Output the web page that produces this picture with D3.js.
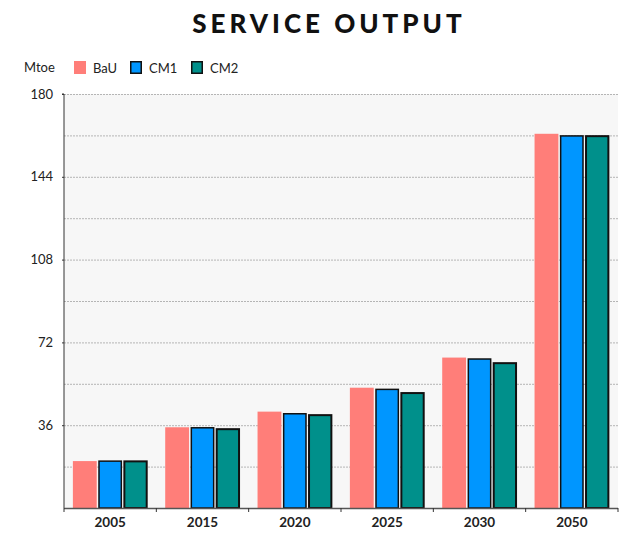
<!DOCTYPE html>
<html><head><meta charset="utf-8">
<script src="https://cdn.jsdelivr.net/npm/d3@7"></script>
<style>body{margin:0;background:#fff;}svg{display:block;}</style>
</head><body><div id="chart"></div>
<script>
const categories = ["2005","2015","2020","2025","2030","2050"];
const seriesNames = ["BaU","CM1","CM2"];
const bau = [20.4, 35.1, 41.9, 52.3, 65.4, 162.7];
const cm1 = [20.7, 35.2, 41.3, 51.9, 65.1, 162.1];
const cm2 = [20.6, 34.6, 40.7, 50.3, 63.3, 162.0];
const yTicks = [36, 72, 108, 144, 180];
const yGrid = [18, 36, 54, 72, 90, 108, 126, 144, 162, 180];
const colors = {BaU:"#FF7E79", CM1:"#0096FF", CM2:"#00908B"};
const legendLabels = ["BaU","CM1","CM2"];

const W = 629, H = 538;
const m = {l:64, r:11, t:94, b:30};
const svg = d3.select("#chart").append("svg").attr("width",W).attr("height",H);
const x = d3.scaleBand().domain(categories).range([m.l, W-m.r]).paddingInner(0).paddingOuter(0);
const xs = d3.scaleBand().domain(seriesNames).range([0, x.bandwidth()]).paddingInner(0.06).paddingOuter(0.35);
const y = d3.scaleLinear().domain([0,180]).range([H-m.b, m.t]);

svg.append("rect").attr("x",m.l).attr("y",m.t).attr("width",W-m.r-m.l).attr("height",H-m.b-m.t).attr("fill","#F7F7F7");

svg.append("g").selectAll("line").data(yGrid).join("line")
  .attr("x1",m.l).attr("x2",W-m.r).attr("y1",d=>y(d)+0.5).attr("y2",d=>y(d)+0.5)
  .attr("stroke","#b5b5b5").attr("stroke-width",1).attr("stroke-dasharray","2,1");

svg.append("text").attr("x",329).attr("y",33).attr("text-anchor","middle")
  .attr("font-family","Lato, sans-serif").attr("font-weight",900).attr("font-size",26)
  .attr("letter-spacing",4).attr("fill","#111").text("SERVICE OUTPUT");

const data = categories.map((c,i)=>({c, vals:[bau[i],cm1[i],cm2[i]]}));
const g = svg.append("g").selectAll("g").data(data).join("g").attr("transform",d=>`translate(${x(d.c)},0)`);
g.selectAll("rect").data(d=>d.vals.map((v,j)=>({s:seriesNames[j], v}))).join("rect")
  .attr("x",d=>xs(d.s)+(d.s==="BaU"?0:0.75)).attr("width",d=>xs.bandwidth()-(d.s==="BaU"?0:1.5))
  .attr("y",d=>y(d.v)+(d.s==="BaU"?0:0.75)).attr("height",d=>y(0)-y(d.v)-(d.s==="BaU"?0:0.75))
  .attr("fill",d=>colors[d.s])
  .attr("stroke",d=>d.s==="BaU"?"none":"#111").attr("stroke-width",d=>d.s==="CM2"?2:1.5);

// axes
const yAxis = d3.axisLeft(y).tickValues(yTicks).tickSize(2).tickPadding(9).tickFormat(d3.format("d"));
const ya = svg.append("g").attr("transform",`translate(${m.l},0)`).call(yAxis);
ya.select(".domain").attr("stroke","#333").attr("d",`M-2,${m.t}H0V${H-m.b}`);
ya.selectAll("text").attr("font-family","Lato, sans-serif").attr("font-size",13).attr("fill","#222");
ya.selectAll(".tick line").attr("stroke","#333");

const xa = svg.append("g").attr("transform",`translate(0,${H-m.b})`);
xa.append("line").attr("x1",m.l).attr("x2",W-m.r).attr("y1",0.5).attr("y2",0.5).attr("stroke","#555").attr("stroke-width",1.5);
xa.selectAll("line.t").data(categories).join("line").attr("class","t")
  .attr("x1",d=>x(d)+x.bandwidth()).attr("x2",d=>x(d)+x.bandwidth()).attr("y1",0).attr("y2",4).attr("stroke","#333");
xa.append("line").attr("x1",m.l).attr("x2",m.l).attr("y1",0).attr("y2",4).attr("stroke","#333");
xa.selectAll("text").data(categories).join("text")
  .attr("x",d=>x(d)+x.bandwidth()/2).attr("y",19).attr("text-anchor","middle")
  .attr("font-family","Lato, sans-serif").attr("font-weight",700).attr("font-size",13.5).attr("fill","#222").text(d=>d);

// legend
svg.append("text").attr("x",24).attr("y",72).attr("font-family","Lato, sans-serif").attr("font-size",13).attr("fill","#222").text("Mtoe");
const lx = [74, 130, 191];
const lg = svg.append("g").selectAll("g").data(seriesNames).join("g").attr("transform",(d,i)=>`translate(${lx[i]},61)`);
lg.append("rect").attr("x",d=>d==="BaU"?0:0.75).attr("y",d=>d==="BaU"?0:0.75)
  .attr("width",d=>d==="BaU"?12:10.5).attr("height",d=>d==="BaU"?13:11.5)
  .attr("fill",d=>colors[d]).attr("stroke",d=>d==="BaU"?"none":"#111").attr("stroke-width",1.5);
lg.append("text").attr("x",19).attr("y",11.5).attr("font-family","Lato, sans-serif").attr("font-size",13).attr("fill","#222")
  .text((d,i)=>legendLabels[i]);
</script></body></html>
